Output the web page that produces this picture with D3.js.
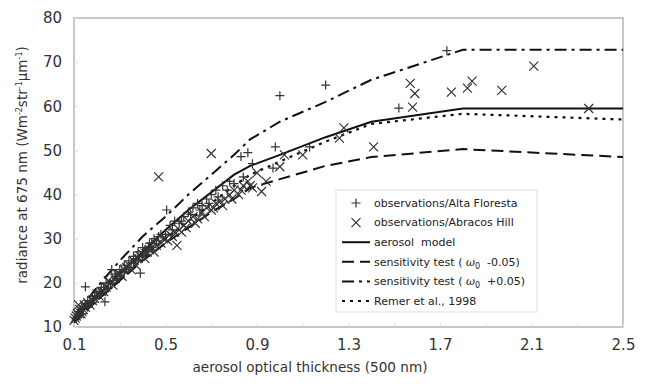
<!DOCTYPE html>
<html>
<head>
<meta charset="utf-8">
<script src="https://cdn.jsdelivr.net/npm/d3@7"></script>
<style>
  body { margin: 0; background: #fff; }
  svg { font-family: "DejaVu Sans", Verdana, sans-serif; }
  .legend text { white-space: pre; }
</style>
</head>
<body>
<svg id="chart" width="649" height="386"></svg>
<script>
// model curves (x = aerosol optical thickness)
const tauModel = [0.1, 0.2, 0.3, 0.4, 0.5, 0.6, 0.7, 0.8, 0.87, 1.0, 1.2, 1.4, 1.8, 2.5];
const aerosolModel = [11.5, 17, 22, 27, 32, 36.5, 40.5, 44.5, 46.5, 49, 53, 56.5, 59.5, 59.5];
const sensMinus = [11, 16, 20.5, 25, 29, 32.5, 36, 39, 41.5, 43.5, 46.5, 48.5, 50.3, 48.5];
const sensPlus = [12, 19, 25, 30.5, 35, 40, 44.5, 49, 52.5, 56.5, 61, 66, 72.8, 72.8];
const remer = [11.5, 16, 20.5, 25.5, 30, 34, 38, 42, 44.5, 47.5, 52, 56, 58.3, 57];

// observations
const altaFloresta = [
  [0.11,12],[0.12,13.5],[0.13,14],[0.14,13],[0.15,19.1],[0.15,15],[0.16,14.5],[0.17,16],
  [0.18,15.5],[0.19,17],[0.2,16.5],[0.21,18],[0.22,17.5],[0.235,15.7],[0.23,19],[0.24,20],
  [0.25,19],[0.265,23],[0.27,20.5],[0.28,22],[0.29,21],[0.3,23],[0.31,22.5],[0.32,24],
  [0.33,23],[0.34,25],[0.35,24.5],[0.36,26],[0.37,25.5],[0.38,27],[0.39,22.2],[0.4,28],
  [0.41,27.5],[0.43,29],[0.44,28],[0.45,30],[0.46,29.5],[0.48,31],[0.505,36.5],[0.52,33],
  [0.54,34],[0.56,33.5],[0.58,35],[0.6,36],[0.62,37],[0.64,38],[0.66,37.5],[0.68,39],
  [0.7,40],[0.72,41],[0.75,42],[0.78,43],[0.83,48.6],[0.86,49.5],[0.88,47],[0.97,46],
  [0.98,50.8],[1.0,62.4],[1.13,50.8],[1.2,64.8],[1.52,59.6],[1.73,72.6],
  [0.12,12.5],[0.14,14.5],[0.16,16],[0.18,17],[0.2,18],[0.22,19],[0.24,18.5],[0.26,20],
  [0.28,21.5],[0.3,21.5],[0.32,22.5],[0.34,23.5],[0.36,24.5],[0.38,25],[0.4,26],[0.42,27],
  [0.44,29],[0.47,30.5],[0.5,31],[0.53,32],[0.57,34],[0.61,35.5],[0.65,36.5],[0.69,38],
  [0.73,39.5],[0.77,41],[0.8,42.5],[0.84,44]
];
const abracosHill = [
  [0.1,11.5],[0.11,12.5],[0.12,15],[0.13,13],[0.14,14],[0.15,14.5],[0.16,15.5],[0.18,16],
  [0.2,17.5],[0.22,18],[0.24,19],[0.26,20],[0.28,21],[0.3,22],[0.32,23],[0.34,24],
  [0.36,25],[0.38,25.5],[0.4,26.5],[0.42,27],[0.44,28],[0.46,28.5],[0.47,44],[0.48,29],
  [0.5,30],[0.52,31],[0.54,31.5],[0.55,28.5],[0.56,32],[0.58,33],[0.6,34],[0.62,35],
  [0.64,34.5],[0.66,36],[0.68,37],[0.7,49.3],[0.7,36.5],[0.72,38],[0.74,38.5],[0.76,39],
  [0.78,40],[0.8,41],[0.82,40],[0.84,42],[0.86,43],[0.88,41.5],[0.9,44.9],[0.92,40.7],
  [0.94,43],[1.0,46.3],[1.02,49],[1.1,49],[1.26,52.8],[1.28,55.1],[1.41,50.8],[1.57,65.2],
  [1.58,59.8],[1.59,62.9],[1.75,63.2],[1.82,64.1],[1.84,65.7],[1.97,63.6],[2.11,69.1],[2.35,59.5],
  [0.105,12],[0.115,13],[0.125,14],[0.135,13.5],[0.145,15],[0.17,15],[0.19,16.5],[0.21,17],
  [0.23,18],[0.25,20.5],[0.27,19.5],[0.29,22],[0.31,21.5],[0.33,23.5],[0.35,23],[0.37,24],
  [0.39,26],[0.41,25.5],[0.43,27.5],[0.45,27],[0.49,30],[0.51,29.5],[0.53,30.5],[0.57,31.5],
  [0.59,32.5],[0.63,33.5],[0.67,35],[0.71,37],[0.75,37.5],[0.79,39],[0.83,41],[0.87,42]
];

const xTicks = [0.1, 0.5, 0.9, 1.3, 1.7, 2.1, 2.5];
const yTicks = [10, 20, 30, 40, 50, 60, 70, 80];

const margin = { top: 18, right: 26, bottom: 59, left: 74 },
      width = 649 - margin.left - margin.right,
      height = 386 - margin.top - margin.bottom;

const svg = d3.select("#chart");
const g = svg.append("g").attr("transform", `translate(${margin.left},${margin.top})`);

const x = d3.scaleLinear().domain([0.1, 2.5]).range([0, width]);
const y = d3.scaleLinear().domain([10, 80]).range([height, 0]);

// frame
g.append("rect")
 .attr("width", width).attr("height", height)
 .attr("fill", "none").attr("stroke", "#b5b5b5").attr("stroke-width", 1.5);

// faint inner ticks
g.append("g")
 .attr("transform", `translate(0,${height})`)
 .call(d3.axisTop(x).tickValues(d3.range(0.1, 2.51, 0.2)).tickSize(4).tickFormat(""))
 .call(a => a.select(".domain").remove())
 .call(a => a.selectAll(".tick line").attr("stroke", "#ddd"));
g.append("g")
 .call(d3.axisRight(y).tickValues(yTicks).tickSize(4).tickFormat(""))
 .call(a => a.select(".domain").remove())
 .call(a => a.selectAll(".tick line").attr("stroke", "#ddd"));

// axes labels
g.append("g")
 .attr("transform", `translate(0,${height})`)
 .call(d3.axisBottom(x).tickValues(xTicks).tickSize(0).tickPadding(12).tickFormat(d3.format(".1f")))
 .call(a => a.select(".domain").remove())
 .call(a => a.selectAll("text").attr("font-size", 15).attr("fill", "#333").attr("font-family", "DejaVu Sans"));

g.append("g")
 .call(d3.axisLeft(y).tickValues(yTicks).tickSize(0).tickPadding(12))
 .call(a => a.select(".domain").remove())
 .call(a => a.selectAll("text").attr("font-size", 15).attr("fill", "#333").attr("font-family", "DejaVu Sans"));

svg.append("text")
 .attr("x", 310).attr("y", 372)
 .attr("text-anchor", "middle").attr("font-size", 13.6).attr("fill", "#333")
 .text("aerosol optical thickness (500 nm)");

const yl = svg.append("text")
 .attr("transform", "translate(27,165)rotate(-90)")
 .attr("text-anchor", "middle").attr("font-size", 13.5).attr("fill", "#333");
yl.append("tspan").text("radiance at 675 nm (Wm");
yl.append("tspan").attr("dy", -5).attr("font-size", 8).text("-2");
yl.append("tspan").attr("dy", 5).text("str");
yl.append("tspan").attr("dy", -5).attr("font-size", 8).text("-1");
yl.append("tspan").attr("dy", 5).text("µm");
yl.append("tspan").attr("dy", -5).attr("font-size", 8).text("-1");
yl.append("tspan").attr("dy", 5).text(")");

// curves
const curves = [
  { vals: aerosolModel, dash: null, w: 2 },
  { vals: sensMinus, dash: "12,6", w: 2 },
  { vals: sensPlus, dash: "12,5,3,5", w: 2 },
  { vals: remer, dash: "3,5", w: 2.2 }
];
const line = d3.line().x(d => x(d[0])).y(d => y(d[1]));
curves.forEach(c => {
  g.append("path")
   .datum(tauModel.map((t, i) => [t, c.vals[i]]))
   .attr("fill", "none").attr("stroke", "#111").attr("stroke-width", c.w)
   .attr("stroke-dasharray", c.dash)
   .attr("d", line);
});

// markers
const plusPath = s => `M${-s},0H${s}M0,${-s}V${s}`;
const crossPath = s => `M${-s},${-s}L${s},${s}M${-s},${s}L${s},${-s}`;
g.selectAll(".af").data(altaFloresta).enter().append("path")
 .attr("transform", d => `translate(${x(d[0])},${y(d[1])})`)
 .attr("d", plusPath(4.5)).attr("stroke", "#333").attr("stroke-width", 1.2).attr("fill", "none");
g.selectAll(".ah").data(abracosHill).enter().append("path")
 .attr("transform", d => `translate(${x(d[0])},${y(d[1])})`)
 .attr("d", crossPath(4.5)).attr("stroke", "#333").attr("stroke-width", 1.2).attr("fill", "none");

// legend
const lg = svg.append("g").attr("class", "legend").attr("transform", "translate(336,190)");
lg.append("rect").attr("width", 201).attr("height", 122)
  .attr("fill", "#fff").attr("stroke", "#ddd");
const rowY = i => 13 + i * 19.6;
const items = [
  { kind: "plus", label: "observations/Alta Floresta" },
  { kind: "cross", label: "observations/Abracos Hill" },
  { kind: "line", dash: null, label: "aerosol  model" },
  { kind: "line", dash: "12,6", label: "sensitivity test ( ", sign: "  -0.05)" },
  { kind: "line", dash: "12,5,3,5", label: "sensitivity test ( ", sign: "  +0.05)" },
  { kind: "line", dash: "3,5", label: "Remer et al., 1998" }
];
items.forEach((it, i) => {
  const row = lg.append("g").attr("transform", `translate(0,${rowY(i)})`);
  if (it.kind === "plus") {
    row.append("path").attr("transform", "translate(20,0)").attr("d", plusPath(4.5))
       .attr("stroke", "#333").attr("stroke-width", 1.2);
  } else if (it.kind === "cross") {
    row.append("path").attr("transform", "translate(20,0)").attr("d", crossPath(4.5))
       .attr("stroke", "#333").attr("stroke-width", 1.2);
  } else {
    row.append("line").attr("x1", 6).attr("x2", 34).attr("stroke", "#111")
       .attr("stroke-width", 2).attr("stroke-dasharray", it.dash);
  }
  const t = row.append("text").attr("x", 38).attr("dy", "0.35em")
     .attr("font-size", 11).attr("fill", "#222").text(it.label);
  if (it.sign) {
    t.append("tspan").attr("font-family", "DejaVu Serif").attr("font-style", "italic").text("ω");
    t.append("tspan").attr("font-size", 8).attr("dy", 3).text("0");
    t.append("tspan").attr("dy", -3).text(it.sign);
  }
});
</script>
</body>
</html>
